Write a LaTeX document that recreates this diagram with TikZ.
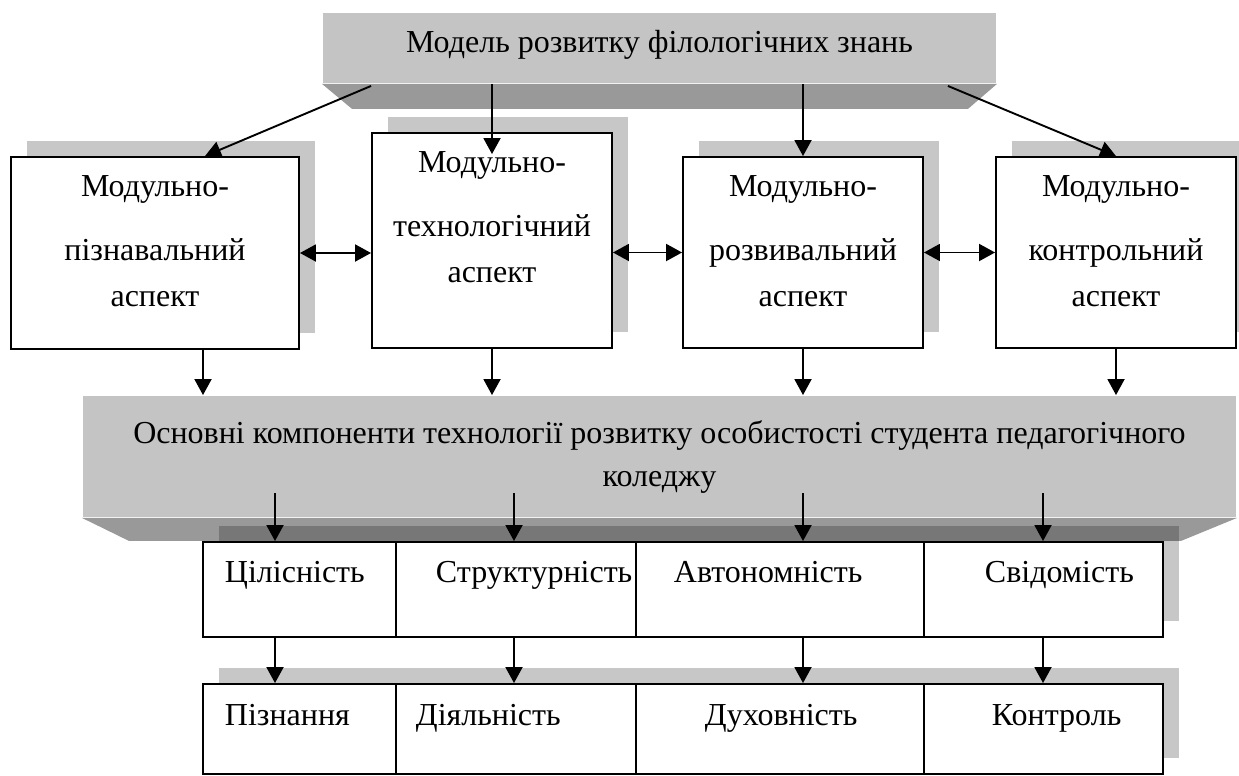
\documentclass[tikz,border=0pt]{standalone}
\usepackage{fontspec}
\setmainfont{Liberation Serif}
\usepackage{xcolor}
\usepackage{tikz}
\usetikzlibrary{calc,arrows.meta,shadows}

\definecolor{facegray}{RGB}{196,196,196}
\definecolor{bevelgray}{RGB}{153,153,153}

\begin{document}
\begin{tikzpicture}[transform shape, x=1pt, y=-1pt, line width=1.9pt,
  font=\fontsize{32}{43}\selectfont,
  >={Triangle[length=16pt,width=17pt]},
  banner/.style={fill=facegray, inner sep=0pt, align=center},
  shadowed/.style={draw, fill=white, inner sep=0pt, general shadow={fill=black, opacity=0.22, shadow xshift=16pt, shadow yshift=16pt}},
  atext/.style={anchor=north, align=center, inner sep=0pt, font=\fontsize{32}{55}\selectfont},
  ctext/.style={anchor=base west, inner sep=0pt}]
\useasboundingbox (0,0) rectangle (1239,776);

\node[banner, minimum width=673, minimum height=70, text depth=14pt] (model) at (659.5,48) {Модель розвитку філологічних знань};
\fill[bevelgray] (model.south west) -- (model.south east) -- ++(-29,25) -- ($(model.south west)+(30,25)$) -- cycle;

\node[shadowed, minimum width=288, minimum height=192] (pizn) at (155,253) {};
\node[shadowed, minimum width=240, minimum height=215] (tekhn) at (492,240.5) {};
\node[shadowed, minimum width=240, minimum height=191] (rozv) at (803,252.5) {};
\node[shadowed, minimum width=240, minimum height=191] (kontr) at (1116,252.5) {};

\node[atext] (pizntxt) at ($(pizn.north)+(0,19)$) {Модульно-\\[9pt]пізнавальний\\[-9pt]аспект};
\node[atext] (tekhntxt) at ($(tekhn.north)+(0,19)$) {Модульно-\\[9pt]технологічний\\[-9pt]аспект};
\node[atext] (rozvtxt) at ($(rozv.north)+(0,19)$) {Модульно-\\[9pt]розвивальний\\[-9pt]аспект};
\node[atext] (kontrtxt) at ($(kontr.north)+(0,19)$) {Модульно-\\[9pt]контрольний\\[-9pt]аспект};

\draw[->] ($(model.south west)+(49,2)$) -- ($(pizn.north)+(50,0)$);
\draw[->] (model.south -| tekhn.north) -- ($(tekhn.north)+(0,22)$);
\draw[->] (model.south -| rozv.north) -- (rozv.north);
\draw[->] ($(model.south east)+(-49,2)$) -- (kontr.north);

\draw[<->] (pizn.east) -- (pizn.east -| tekhn.west);
\draw[<->] (tekhn.east |- rozv.west) -- (rozv.west);
\draw[<->] (rozv.east) -- (kontr.west);

\node[banner, minimum width=1153, minimum height=121] (osn) at (659.5,456.5) {Основні компоненти технології розвитку особистості студента педагогічного\\коледжу};
\fill[bevelgray] (osn.south west) -- (osn.south east) -- ++(-56,23) -- ($(osn.south west)+(47,23)$) -- cycle;

\draw[->] ($(pizn.south)+(48,0)$) coordinate (p1) -- (p1 |- osn.north);
\draw[->] (tekhn.south) -- (tekhn.south |- osn.north);
\draw[->] (rozv.south) -- (rozv.south |- osn.north);
\draw[->] (kontr.south) -- (kontr.south |- osn.north);

\node[shadowed, minimum width=193, minimum height=95] (cil) at (299.5,589.5) {};
\node[shadowed, minimum width=240, minimum height=95] (strukt) at (516,589.5) {};
\node[shadowed, minimum width=288, minimum height=95] (avto) at (780,589.5) {};
\node[shadowed, minimum width=239, minimum height=95] (svid) at (1043.5,589.5) {};

\node[shadowed, minimum width=193, minimum height=90] (pizna) at (299.5,729) {};
\node[shadowed, minimum width=240, minimum height=90] (diyal) at (516,729) {};
\node[shadowed, minimum width=288, minimum height=90] (dukh) at (780,729) {};
\node[shadowed, minimum width=239, minimum height=90] (kontrol) at (1043.5,729) {};

\node[ctext] (ciltxt) at (224,582) {Цілісність};
\node[ctext] (strukttxt) at (435,582) {Структурність};
\node[ctext] (avtotxt) at (673,582) {Автономність};
\node[ctext] (svidtxt) at (984,582) {Свідомість};
\node[ctext] (piznatxt) at (224,725) {Пізнання};
\node[ctext] (diyaltxt) at (415,725) {Діяльність};
\node[ctext] (dukhtxt) at (704,725) {Духовність};
\node[ctext] (kontroltxt) at (991,725) {Контроль};

\coordinate (k1) at (275,493);
\coordinate (k2) at (514,493);
\coordinate (k3) at (803,493);
\coordinate (k4) at (1043,493);

\draw[->] (k1) -- (k1 |- cil.north);
\draw[->] (k2) -- (k2 |- strukt.north);
\draw[->] (k3) -- (k3 |- avto.north);
\draw[->] (k4) -- (k4 |- svid.north);
\draw[->] (k1 |- cil.south) -- (k1 |- pizna.north);
\draw[->] (k2 |- strukt.south) -- (k2 |- diyal.north);
\draw[->] (k3 |- avto.south) -- (k3 |- dukh.north);
\draw[->] (k4 |- svid.south) -- (k4 |- kontrol.north);
\end{tikzpicture}
\end{document}
